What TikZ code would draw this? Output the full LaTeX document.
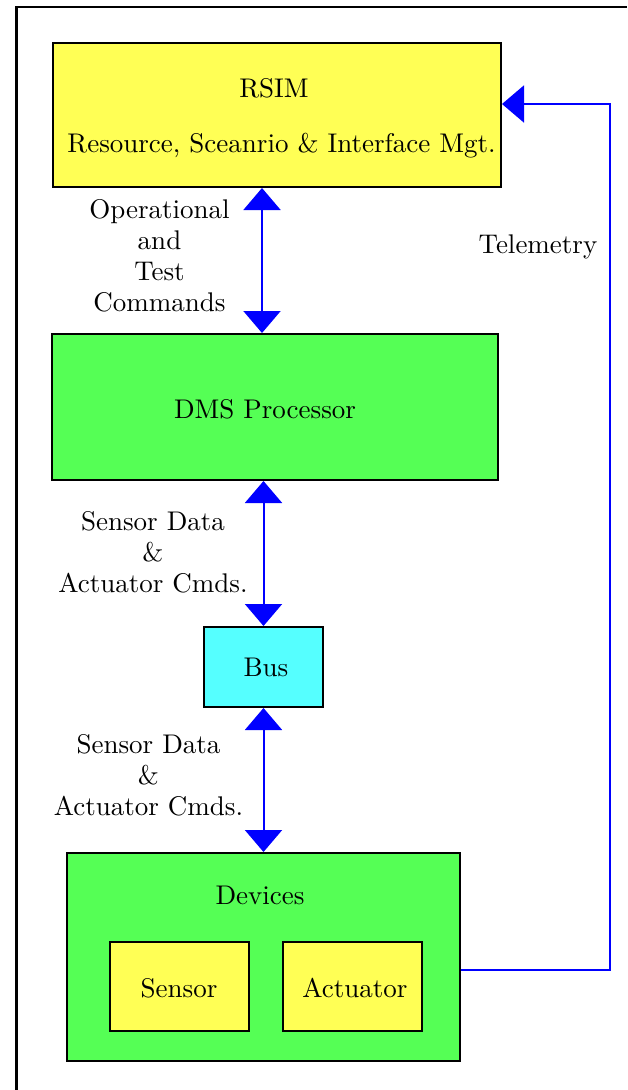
\documentclass[tikz,border=0pt]{standalone}
\usepackage{fontspec}
\setmainfont{lmroman10-regular.otf}
\usetikzlibrary{arrows.meta,calc}
\definecolor{boxyellow}{RGB}{255,255,85}
\definecolor{boxgreen}{RGB}{85,255,85}
\definecolor{boxcyan}{RGB}{85,255,255}
\definecolor{linkblue}{RGB}{0,0,255}
\tikzset{
  box/.style={draw=black, line width=2pt, inner sep=0pt},
  lbl/.style={inner sep=0pt, font=\rmfamily\fontsize{27}{31}\selectfont, align=center},
  link/.style={draw=linkblue, line width=2pt, -{Triangle[length=22pt,width=37pt]}},
  dlink/.style={draw=linkblue, line width=2pt, {Triangle[length=22pt,width=37pt]}-{Triangle[length=22pt,width=37pt]}},
}
\begin{document}
\begin{tikzpicture}[x=1pt,y=-1pt]
\useasboundingbox (0,0) rectangle (627,1090);
\draw[line width=2.5pt] (16.5,1090) -- (16.5,7) -- (627,7);
% boxes
\node[box, fill=boxyellow, minimum width=448pt, minimum height=144pt] (rsim) at (277,115) {};
\node[box, fill=boxgreen, minimum width=446pt, minimum height=146pt] (dms) at (275,407) {};
\node[box, fill=boxcyan, minimum width=119pt, minimum height=80pt] (bus) at (263.5,667) {};
\node[box, fill=boxgreen, minimum width=393pt, minimum height=208pt] (dev) at (263.5,957) {};
\node[box, fill=boxyellow, minimum width=139pt, minimum height=89pt] (sensor) at (179.5,986.5) {};
\node[box, fill=boxyellow, minimum width=139pt, minimum height=89pt] (act) at (352.5,986.5) {};
% texts in boxes
\node[lbl, anchor=base] (trsim) at (274,97) {RSIM};
\node[lbl, anchor=base] (tres) at (281.5,152) {Resource, Sceanrio \& Interface Mgt.};
\node[lbl, anchor=base] (tdms) at (265,418) {DMS Processor};
\node[lbl, anchor=base] (tbus) at (266,676) {Bus};
\node[lbl, anchor=base] (tdev) at (260,904) {Devices};
\node[lbl, anchor=base] (tsen) at (179,997) {Sensor};
\node[lbl, anchor=base] (tact) at (355,997) {Actuator};
% connector labels
\node[lbl, anchor=north] (lop) at (159.5,199) {Operational\\and\\Test\\Commands};
\node[lbl, anchor=base] (ltel) at (538,253) {Telemetry};
\node[lbl, anchor=north] (lsd1) at (153,511) {Sensor Data\\\&\hspace*{20pt}\\Actuator Cmds.};
\node[lbl, anchor=north] (lsd2) at (148.5,734) {Sensor Data\\\&\hspace*{20pt}\\Actuator Cmds.};
% connectors
\draw[dlink] ([xshift=-15pt]rsim.south) -- ([xshift=-15pt]rsim.south |- dms.north);
\draw[dlink] (dms.south -| bus.north) -- (bus.north);
\draw[dlink] (bus.south) -- (bus.south |- dev.north);
\draw[link] ([yshift=-13pt]dev.east) -- ++(149,0) |- ([yshift=11pt]rsim.east);
\end{tikzpicture}
\end{document}
